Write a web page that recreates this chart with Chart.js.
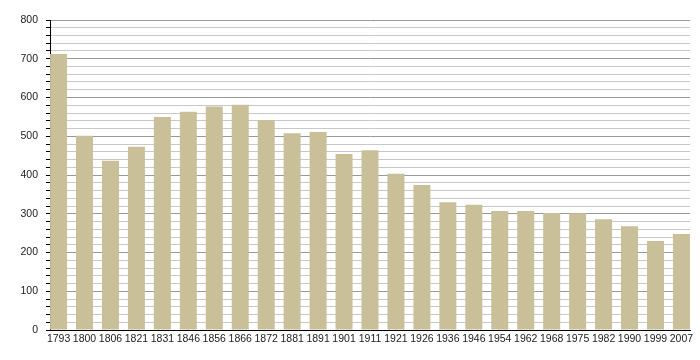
<!DOCTYPE html>
<html>
<head>
<meta charset="utf-8">
<script src="https://cdn.jsdelivr.net/npm/chart.js@4/dist/chart.umd.min.js"></script>
<style>
	html, body { margin: 0; padding: 0; background: #fff; }
	#wrap { width: 700px; height: 360px; }
</style>
</head>
<body>
<div id="wrap"><canvas id="popChart"></canvas></div>
<script>
// Census years
const years = ['1793', '1800', '1806', '1821', '1831', '1846', '1856', '1866', '1872', '1881',
	'1891', '1901', '1911', '1921', '1926', '1936', '1946', '1954', '1962', '1968',
	'1975', '1982', '1990', '1999', '2007'];

// Population for each year
const population = [712, 501, 437, 473, 550, 563, 577, 581, 542, 508,
	511, 454, 464, 403, 374, 330, 323, 307, 307, 302,
	301, 286, 268, 230, 248];

// Y axis range
const yMax = 800;
const yStep = 20;

const ctx = document.getElementById('popChart').getContext('2d');

// Bars sit at index positions on a linear x scale so the first and last bar touch the axes
const points = population.map((v, i) => ({ x: i, y: v }));

const chart = new Chart(ctx, {
	type: 'bar',
	data: {
		datasets: [{
			data: points,
			backgroundColor: '#c9bf98',
			borderWidth: 0,
			barPercentage: 0.655,
			categoryPercentage: 1,
		}],
	},
	options: {
		responsive: true,
		maintainAspectRatio: false,
		animation: false,
		layout: { padding: { top: 20, right: 10, left: 0, bottom: 0 } },
		plugins: { legend: { display: false }, tooltip: { enabled: false } },
		scales: {
			x: {
				type: 'linear',
				min: -0.33,
				max: years.length - 1 + 0.33,
				offset: false,
				grid: { display: false, drawTicks: false },
				border: { display: true, color: '#000', width: 1 },
				afterBuildTicks: (scale) => {
					scale.ticks = years.map((_, i) => ({ value: i }));
				},
				ticks: {
					color: '#222',
					font: { family: 'Liberation Sans, Arial', size: 10.5 },
					maxRotation: 0,
					autoSkip: false,
					padding: 3,
					callback: (v) => years[v],
				},
				afterFit: (scale) => { scale.height = 30; },
			},
			y: {
				min: 0,
				max: yMax,
				ticks: {
					stepSize: yStep,
					maxTicksLimit: 50,
					autoSkip: false,
					color: '#222',
					font: { family: 'Liberation Sans, Arial', size: 10.5 },
					padding: 8,
					// only label every 100
					callback: (v) => (v % 100 === 0 ? v : ''),
				},
				grid: {
					color: (c) => (c.tick && c.tick.value % 100 === 0 ? '#999' : '#c8c8c8'),
					lineWidth: 1,
					tickColor: '#000',
					tickLength: 4,
				},
				border: { display: true, color: '#000', width: 1 },
				afterFit: (scale) => { scale.width = 50; },
			},
		},
	},
});
</script>
</body>
</html>
